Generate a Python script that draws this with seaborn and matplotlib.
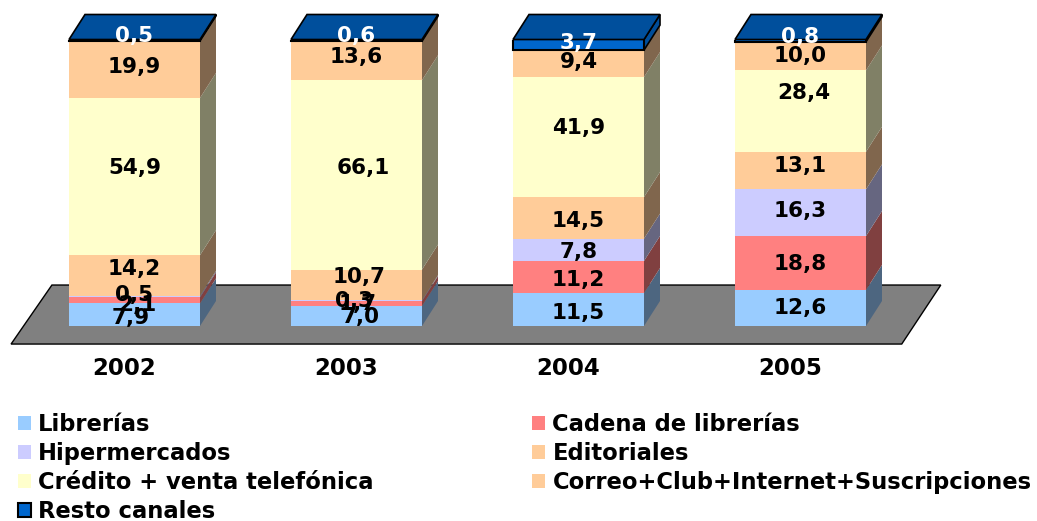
import numpy as np
import pandas as pd
import matplotlib
matplotlib.use("Agg")
import matplotlib.pyplot as plt
from matplotlib.patches import Polygon, Patch
from matplotlib.colors import to_rgb
from matplotlib.transforms import ScaledTranslation
import seaborn as sns

years = ["2002", "2003", "2004", "2005"]
librerias = [7.9, 7.0, 11.5, 12.6]
cadena = [2.1, 1.7, 11.2, 18.8]
hiper = [0.5, 0.3, 7.8, 16.3]
editoriales = [14.2, 10.7, 14.5, 13.1]
credito = [54.9, 66.1, 41.9, 28.4]
correo = [19.9, 13.6, 9.4, 10.0]
resto = [0.5, 0.6, 3.7, 0.8]

series_names = ["Librerías", "Cadena de librerías", "Hipermercados", "Editoriales",
                "Crédito + venta telefónica", "Correo+Club+Internet+Suscripciones",
                "Resto canales"]
series_values = [librerias, cadena, hiper, editoriales, credito, correo, resto]
series_colors = ["#99CCFF", "#FF8080", "#CCCCFF", "#FFCC99", "#FFFFCC", "#FFCC99", "#0066CC"]

# label nudges in pixels (dx, dy up), per series and year: placement only
nudges = [
    [(-4, -3), (4, -1), (0, -3), (0, 0)],
    [(3, -5), (1, 0), (0, -3), (0, -1)],
    [(-1, 2), (-2, 0), (0, -2), (0, 2)],
    [(0, 7), (3, 8), (0, -3), (0, 5)],
    [(0, 9), (7, 7), (0, 9), (3, 18)],
    [(0, 2), (0, 4), (0, 2), (0, 0)],
    [(0, 4), (0, 4), (0, 2), (0, 4)],
]

W, H = 1037, 521
DPI = 100
sns.set_theme(style="white")
plt.rcParams["font.family"] = ["DejaVu Sans"]
fig = plt.figure(figsize=(W / DPI, H / DPI), dpi=DPI, facecolor="white")

# axes box: x from 23.5 to 911.5 px, y from 326 (0) to 39.5 (100) px
ax = fig.add_axes([23.5 / W, (H - 326) / H, 888 / W, 286.5 / H])
ax.set_facecolor("none")

DX, DY = 16 / 222, 25 / 2.865
BAR_W = 131 / 222

df_base = np.zeros(len(years))
artists = []
for name, vals, col in zip(series_names, series_values, series_colors):
    df = pd.DataFrame({"year": years, "value": vals})
    before = len(ax.containers)
    sns.barplot(data=df, x="year", y="value", color=col, saturation=1, width=BAR_W,
                bottom=df_base.copy(), errorbar=None, ax=ax, zorder=3,
                edgecolor="black" if name == "Resto canales" else "none",
                linewidth=1.5 if name == "Resto canales" else 0)
    artists.append(ax.containers[before])
    df_base = df_base + np.array(vals)

ax.set_xlim(-0.5, 3.5)
ax.set_ylim(0, 100)

# floor
floor = Polygon([(-0.556, -6.3), (-0.372, 14.3), (3.632, 14.3), (3.456, -6.3)], closed=True,
                facecolor="#808080", edgecolor="black", linewidth=1.0, zorder=1, clip_on=False)
ax.add_patch(floor)

# 3-D sides and top
for i, (name, cont, col) in enumerate(zip(series_names, artists, series_colors)):
    rgb = np.array(to_rgb(col))
    is_top = name == "Resto canales"
    for bar in cont.patches:
        x0, x1 = bar.get_x(), bar.get_x() + bar.get_width()
        b, t = bar.get_y(), bar.get_y() + bar.get_height()
        side = Polygon([(x1, b), (x1 + DX, b + DY), (x1 + DX, t + DY), (x1, t)], closed=True,
                       facecolor=(rgb * 0.75 if is_top else rgb * 0.5),
                       edgecolor="black" if is_top else "none",
                       linewidth=1.2 if is_top else 0, zorder=2 + i * 0.01, clip_on=False)
        ax.add_patch(side)
        if is_top:
            top = Polygon([(x0, t), (x0 + DX, t + DY), (x1 + DX, t + DY), (x1, t)], closed=True,
                          facecolor="#004F9C", edgecolor="black", linewidth=1.2,
                          zorder=4, clip_on=False)
            ax.add_patch(top)

# labels
cum = np.zeros(len(years))
for name, vals, nud in zip(series_names, series_values, nudges):
    color = "white" if name == "Resto canales" else "black"
    for j, v in enumerate(vals):
        ax.annotate(f"{v:.1f}".replace(".", ","), xy=(j, cum[j] + v / 2),
                    xytext=(nud[j][0] * 72 / DPI, nud[j][1] * 72 / DPI), textcoords="offset points",
                    ha="center", va="center", fontsize=15.5, fontweight="bold", color=color,
                    zorder=6, annotation_clip=False)
    cum = cum + np.array(vals)

sns.despine(ax=ax, left=True, bottom=True)
ax.set_xlabel("")
ax.set_ylabel("")
ax.set_yticks([])
ax.tick_params(axis="x", length=0, pad=22, labelsize=16.5)
for lab in ax.get_xticklabels():
    lab.set_fontweight("bold")
    lab.set_color("black")
    lab.set_transform(lab.get_transform() + ScaledTranslation(-10 / DPI, 0, fig.dpi_scale_trans))

# legend in row order: left column then right column
order = [0, 2, 4, 6, 1, 3, 5]
handles = [Patch(facecolor=series_colors[k], edgecolor="black" if k == 6 else "none",
                 linewidth=1.5 if k == 6 else 0, label=series_names[k]) for k in order]
fig.legend(handles=handles, ncol=2, loc="upper left",
           bbox_to_anchor=(18 / W, 1 - 413 / H), bbox_transform=fig.transFigure,
           frameon=False, borderaxespad=0, borderpad=0,
           prop={"weight": "bold", "size": 16.3},
           handlelength=0.575, handleheight=0.575, handletextpad=0.32,
           columnspacing=7.0, labelspacing=0.265, labelcolor="black")

fig.savefig("out.png", dpi=DPI, facecolor="white")
